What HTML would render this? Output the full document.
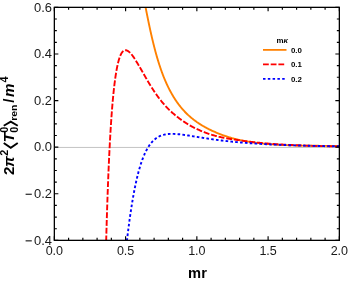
<!DOCTYPE html><html><head><meta charset="utf-8"><style>html,body{margin:0;padding:0;background:#fff}body{width:349px;height:281px;position:relative;overflow:hidden;font-family:"Liberation Sans",sans-serif}</style></head><body><svg width="349" height="281" viewBox="0 0 349 281" style="position:absolute;left:0;top:0;will-change:transform"><defs><clipPath id="c"><rect x="54.35" y="7.35" width="285.00" height="233.00"/></clipPath></defs><line x1="54.35" y1="147.45" x2="339.35" y2="147.45" stroke="#bcbcbc" stroke-width="0.9"/><g clip-path="url(#c)" fill="none" stroke-width="1.90" stroke-linejoin="round"><path d="M143.33 -4.27 L143.46 -3.58 L143.60 -2.90 L143.73 -2.21 L143.87 -1.52 L144.00 -0.83 L144.13 -0.14 L144.27 0.54 L144.40 1.23 L144.53 1.92 L144.67 2.61 L144.80 3.30 L144.94 3.99 L145.07 4.67 L145.20 5.36 L145.34 6.05 L145.47 6.74 L145.61 7.43 L145.74 8.11 L145.88 8.80 L146.01 9.49 L146.15 10.18 L146.28 10.87 L146.42 11.55 L146.55 12.24 L146.69 12.93 L146.83 13.62 L146.96 14.30 L147.10 14.99 L147.24 15.68 L147.38 16.36 L147.52 17.05 L147.66 17.74 L147.80 18.43 L147.94 19.11 L148.08 19.80 L148.22 20.49 L148.36 21.17 L148.50 21.86 L148.64 22.55 L148.79 23.23 L148.93 23.92 L149.08 24.60 L149.22 25.29 L149.37 25.98 L149.51 26.66 L149.66 27.35 L149.81 28.03 L149.96 28.72 L150.10 29.40 L150.25 30.09 L150.40 30.77 L150.56 31.46 L150.71 32.14 L150.86 32.82 L151.01 33.51 L151.17 34.19 L151.32 34.88 L151.48 35.56 L151.64 36.24 L151.79 36.93 L151.95 37.61 L152.11 38.29 L152.27 38.97 L152.44 39.66 L152.60 40.34 L152.76 41.02 L152.93 41.70 L153.09 42.38 L153.26 43.06 L153.43 43.74 L153.60 44.42 L153.77 45.10 L153.94 45.78 L154.11 46.46 L154.28 47.14 L154.46 47.82 L154.64 48.50 L154.81 49.18 L154.99 49.85 L155.17 50.53 L155.35 51.21 L155.54 51.89 L155.72 52.56 L155.91 53.24 L156.09 53.91 L156.28 54.59 L156.47 55.26 L156.66 55.94 L156.86 56.61 L157.05 57.29 L157.25 57.96 L157.45 58.63 L157.65 59.30 L157.85 59.97 L158.05 60.64 L158.26 61.31 L158.46 61.98 L158.67 62.65 L158.88 63.32 L159.10 63.99 L159.31 64.66 L159.53 65.32 L159.75 65.99 L159.97 66.66 L160.19 67.32 L160.42 67.98 L160.64 68.65 L160.87 69.31 L161.10 69.97 L161.34 70.63 L161.57 71.29 L161.81 71.95 L162.05 72.61 L162.30 73.27 L162.54 73.92 L162.79 74.58 L163.04 75.23 L163.30 75.89 L163.56 76.54 L163.81 77.19 L164.08 77.84 L164.34 78.49 L164.61 79.14 L164.88 79.78 L165.16 80.43 L165.43 81.07 L165.71 81.71 L165.99 82.36 L166.28 83.00 L166.57 83.63 L166.86 84.27 L167.16 84.91 L167.45 85.54 L167.76 86.18 L168.06 86.81 L168.37 87.44 L168.68 88.06 L168.99 88.69 L169.31 89.32 L169.63 89.94 L169.96 90.56 L170.29 91.18 L170.62 91.80 L170.96 92.41 L171.30 93.02 L171.64 93.64 L171.99 94.25 L172.34 94.85 L172.69 95.46 L173.05 96.06 L173.41 96.66 L173.78 97.26 L174.15 97.85 L174.52 98.44 L174.90 99.03 L175.28 99.62 L175.67 100.21 L176.06 100.79 L176.46 101.37 L176.86 101.94 L177.26 102.52 L177.67 103.09 L178.08 103.65 L178.50 104.22 L178.92 104.78 L179.35 105.33 L179.78 105.89 L180.21 106.44 L180.65 106.98 L181.09 107.53 L181.54 108.07 L181.99 108.60 L182.45 109.13 L182.91 109.66 L183.38 110.18 L183.85 110.70 L184.33 111.22 L184.81 111.73 L185.29 112.23 L185.78 112.73 L186.28 113.23 L186.78 113.72 L187.29 114.21 L187.79 114.69 L188.31 115.16 L188.83 115.63 L189.35 116.10 L189.88 116.56 L190.41 117.02 L190.94 117.48 L191.48 117.92 L192.02 118.37 L192.57 118.81 L193.12 119.24 L193.67 119.68 L194.23 120.10 L194.79 120.52 L195.35 120.94 L195.92 121.35 L196.49 121.76 L197.06 122.17 L197.64 122.56 L198.22 122.96 L198.80 123.35 L199.38 123.74 L199.97 124.12 L200.56 124.49 L201.16 124.86 L201.75 125.23 L202.35 125.60 L202.96 125.95 L203.56 126.31 L204.17 126.66 L204.78 127.01 L205.39 127.35 L206.00 127.68 L206.62 128.02 L207.24 128.35 L207.86 128.67 L208.49 128.99 L209.11 129.31 L209.74 129.62 L210.37 129.93 L211.00 130.23 L211.63 130.53 L212.27 130.83 L212.91 131.12 L213.55 131.40 L214.19 131.69 L214.83 131.97 L215.47 132.24 L216.12 132.52 L216.77 132.79 L217.42 133.05 L218.07 133.31 L218.72 133.57 L219.37 133.82 L220.03 134.07 L220.68 134.32 L221.34 134.57 L222.00 134.81 L222.65 135.05 L223.31 135.29 L223.97 135.53 L224.63 135.76 L225.30 136.00 L225.96 136.22 L226.62 136.45 L227.29 136.67 L227.95 136.89 L228.62 137.11 L229.29 137.32 L229.96 137.53 L230.63 137.73 L231.30 137.93 L231.97 138.13 L232.65 138.32 L233.32 138.51 L234.00 138.69 L234.68 138.87 L235.36 139.04 L236.04 139.21 L236.72 139.37 L237.40 139.53 L238.08 139.69 L238.77 139.85 L239.45 140.00 L240.14 140.15 L240.82 140.29 L241.51 140.43 L242.20 140.57 L242.88 140.70 L243.57 140.84 L244.26 140.97 L244.95 141.09 L245.64 141.22 L246.33 141.34 L247.02 141.45 L247.71 141.57 L248.41 141.68 L249.10 141.79 L249.79 141.90 L250.48 142.01 L251.18 142.11 L251.87 142.21 L252.57 142.31 L253.26 142.40 L253.95 142.50 L254.65 142.59 L255.34 142.68 L256.04 142.77 L256.74 142.86 L257.43 142.94 L258.13 143.02 L258.82 143.11 L259.52 143.19 L260.22 143.26 L260.91 143.34 L261.61 143.42 L262.31 143.49 L263.01 143.56 L263.70 143.63 L264.40 143.70 L265.10 143.76 L265.80 143.83 L266.50 143.89 L267.19 143.95 L267.89 144.01 L268.59 144.07 L269.29 144.13 L269.99 144.18 L270.69 144.24 L271.39 144.29 L272.08 144.34 L272.78 144.39 L273.48 144.44 L274.18 144.49 L274.88 144.53 L275.58 144.58 L276.28 144.62 L276.98 144.66 L277.68 144.70 L278.38 144.74 L279.08 144.78 L279.78 144.82 L280.48 144.86 L281.18 144.89 L281.88 144.93 L282.58 144.96 L283.28 145.00 L283.98 145.03 L284.68 145.06 L285.38 145.09 L286.08 145.12 L286.78 145.15 L287.48 145.17 L288.18 145.20 L288.88 145.23 L289.59 145.25 L290.29 145.28 L290.99 145.30 L291.69 145.32 L292.39 145.35 L293.09 145.37 L293.79 145.39 L294.49 145.41 L295.19 145.43 L295.89 145.45 L296.59 145.47 L297.29 145.49 L297.99 145.50 L298.69 145.52 L299.40 145.54 L300.10 145.55 L300.80 145.57 L301.50 145.58 L302.20 145.60 L302.90 145.61 L303.60 145.63 L304.30 145.64 L305.00 145.65 L305.70 145.66 L306.40 145.68 L307.10 145.69 L307.81 145.70 L308.51 145.71 L309.21 145.72 L309.91 145.73 L310.61 145.74 L311.31 145.75 L312.01 145.76 L312.71 145.76 L313.41 145.77 L314.11 145.78 L314.82 145.79 L315.52 145.79 L316.22 145.80 L316.92 145.81 L317.62 145.81 L318.32 145.82 L319.02 145.83 L319.72 145.83 L320.42 145.84 L321.12 145.84 L321.83 145.85 L322.53 145.85 L323.23 145.86 L323.93 145.86 L324.63 145.87 L325.33 145.87 L326.03 145.87 L326.73 145.88 L327.43 145.88 L328.13 145.88 L328.83 145.89 L329.54 145.89 L330.24 145.89 L330.94 145.89 L331.64 145.90 L332.34 145.90 L333.04 145.90 L333.74 145.90 L334.44 145.91 L335.14 145.91 L335.84 145.91 L336.55 145.91 L337.25 145.91 L337.95 145.92 L338.65 145.92 L339.35 145.92" stroke="#ff8000"/><path d="M105.89 251.74 L105.90 251.04 L105.92 250.34 L105.94 249.64 L105.96 248.94 L105.98 248.24 L105.99 247.54 L106.01 246.84 L106.03 246.14 L106.05 245.44 L106.07 244.74 L106.09 244.04 L106.11 243.34 L106.12 242.64 L106.14 241.94 L106.16 241.24 L106.18 240.54 L106.20 239.84 L106.22 239.14 L106.24 238.44 L106.26 237.74 L106.28 237.04 L106.30 236.34 L106.32 235.64 L106.34 234.94 L106.36 234.24 L106.38 233.54 L106.39 232.84 L106.41 232.14 L106.43 231.44 L106.45 230.74 L106.47 230.04 L106.50 229.34 L106.52 228.64 L106.54 227.94 L106.56 227.24 L106.58 226.54 L106.60 225.84 L106.62 225.14 L106.64 224.44 L106.66 223.74 L106.68 223.04 L106.70 222.34 L106.72 221.64 L106.74 220.94 L106.76 220.24 L106.79 219.54 L106.81 218.84 L106.83 218.14 L106.85 217.44 L106.87 216.74 L106.89 216.04 L106.92 215.34 L106.94 214.64 L106.96 213.94 L106.98 213.24 L107.00 212.54 L107.03 211.84 L107.05 211.14 L107.07 210.44 L107.09 209.74 L107.12 209.04 L107.14 208.34 L107.16 207.64 L107.19 206.94 L107.21 206.24 L107.23 205.54 L107.26 204.84 L107.28 204.14 L107.30 203.44 L107.33 202.74 L107.35 202.04 L107.37 201.34 L107.40 200.64 L107.42 199.94 L107.45 199.24 L107.47 198.54 L107.49 197.84 L107.52 197.14 L107.54 196.44 L107.57 195.74 L107.59 195.04 L107.62 194.34 L107.64 193.64 L107.67 192.94 L107.69 192.24 L107.72 191.54 L107.74 190.84 L107.77 190.14 L107.80 189.44 L107.82 188.74 L107.85 188.04 L107.87 187.34 L107.90 186.64 L107.93 185.94 L107.95 185.24 L107.98 184.54 L108.01 183.84 L108.03 183.14 L108.06 182.44 L108.09 181.74 L108.12 181.04 L108.14 180.34 L108.17 179.64 L108.20 178.94 L108.23 178.24 L108.25 177.55 L108.28 176.85 L108.31 176.15 L108.34 175.45 L108.37 174.75 L108.40 174.05 L108.43 173.35 L108.45 172.65 L108.48 171.95 L108.51 171.25 L108.54 170.55 L108.57 169.85 L108.60 169.15 L108.63 168.45 L108.66 167.75 L108.69 167.05 L108.72 166.35 L108.75 165.65 L108.79 164.95 L108.82 164.25 L108.85 163.55 L108.88 162.85 L108.91 162.15 L108.94 161.45 L108.97 160.75 L109.01 160.05 L109.04 159.35 L109.07 158.65 L109.10 157.96 L109.14 157.26 L109.17 156.56 L109.20 155.86 L109.24 155.16 L109.27 154.46 L109.31 153.76 L109.34 153.06 L109.37 152.36 L109.41 151.66 L109.44 150.96 L109.48 150.26 L109.51 149.56 L109.55 148.86 L109.58 148.16 L109.62 147.46 L109.66 146.76 L109.69 146.06 L109.73 145.37 L109.77 144.67 L109.80 143.97 L109.84 143.27 L109.88 142.57 L109.92 141.87 L109.95 141.17 L109.99 140.47 L110.03 139.77 L110.07 139.07 L110.11 138.37 L110.15 137.67 L110.19 136.97 L110.23 136.28 L110.27 135.58 L110.31 134.88 L110.35 134.18 L110.39 133.48 L110.43 132.78 L110.47 132.08 L110.52 131.38 L110.56 130.68 L110.60 129.98 L110.64 129.28 L110.69 128.59 L110.73 127.89 L110.78 127.19 L110.82 126.49 L110.87 125.79 L110.91 125.09 L110.96 124.39 L111.00 123.69 L111.05 123.00 L111.09 122.30 L111.14 121.60 L111.19 120.90 L111.24 120.20 L111.28 119.50 L111.33 118.80 L111.38 118.10 L111.43 117.41 L111.48 116.71 L111.53 116.01 L111.58 115.31 L111.63 114.61 L111.68 113.91 L111.74 113.22 L111.79 112.52 L111.84 111.82 L111.90 111.12 L111.95 110.42 L112.00 109.72 L112.06 109.03 L112.12 108.33 L112.17 107.63 L112.23 106.93 L112.29 106.23 L112.34 105.54 L112.40 104.84 L112.46 104.14 L112.52 103.44 L112.58 102.74 L112.64 102.05 L112.70 101.35 L112.77 100.65 L112.83 99.95 L112.89 99.26 L112.96 98.56 L113.02 97.86 L113.09 97.17 L113.16 96.47 L113.22 95.77 L113.29 95.07 L113.36 94.38 L113.43 93.68 L113.50 92.98 L113.57 92.29 L113.65 91.59 L113.72 90.89 L113.79 90.20 L113.87 89.50 L113.95 88.81 L114.02 88.11 L114.10 87.41 L114.18 86.72 L114.26 86.02 L114.34 85.33 L114.43 84.63 L114.51 83.94 L114.60 83.24 L114.69 82.55 L114.78 81.85 L114.87 81.16 L114.96 80.46 L115.05 79.77 L115.14 79.08 L115.24 78.38 L115.34 77.69 L115.44 77.00 L115.54 76.30 L115.64 75.61 L115.75 74.92 L115.86 74.23 L115.97 73.53 L116.08 72.84 L116.20 72.15 L116.31 71.46 L116.43 70.77 L116.56 70.08 L116.68 69.39 L116.81 68.70 L116.94 68.02 L117.08 67.33 L117.22 66.64 L117.36 65.96 L117.51 65.27 L117.66 64.59 L117.81 63.91 L117.97 63.23 L118.14 62.55 L118.31 61.87 L118.49 61.19 L118.68 60.51 L118.87 59.84 L119.07 59.17 L119.28 58.50 L119.50 57.84 L119.73 57.18 L119.97 56.52 L120.23 55.87 L120.51 55.22 L120.80 54.59 L121.11 53.96 L121.45 53.35 L121.82 52.75 L122.22 52.18 L122.67 51.64 L123.17 51.15 L123.73 50.73 L124.35 50.41 L125.02 50.23 L125.72 50.20 L126.41 50.31 L127.08 50.54 L127.70 50.85 L128.29 51.22 L128.85 51.64 L129.39 52.10 L129.89 52.58 L130.38 53.08 L130.85 53.60 L131.31 54.13 L131.75 54.67 L132.18 55.22 L132.61 55.78 L133.02 56.35 L133.42 56.92 L133.82 57.50 L134.21 58.08 L134.60 58.66 L134.98 59.25 L135.35 59.84 L135.72 60.44 L136.09 61.03 L136.46 61.63 L136.83 62.22 L137.19 62.82 L137.55 63.42 L137.91 64.02 L138.27 64.62 L138.63 65.23 L138.98 65.83 L139.34 66.43 L139.69 67.04 L140.04 67.64 L140.40 68.25 L140.75 68.85 L141.10 69.46 L141.45 70.07 L141.80 70.67 L142.15 71.28 L142.49 71.89 L142.84 72.50 L143.19 73.11 L143.54 73.71 L143.88 74.32 L144.23 74.93 L144.58 75.54 L144.92 76.15 L145.27 76.76 L145.61 77.37 L145.96 77.97 L146.31 78.58 L146.66 79.19 L147.01 79.79 L147.36 80.40 L147.72 81.00 L148.07 81.61 L148.43 82.21 L148.79 82.81 L149.15 83.41 L149.51 84.01 L149.87 84.61 L150.24 85.21 L150.61 85.80 L150.98 86.40 L151.35 86.99 L151.72 87.58 L152.10 88.18 L152.47 88.77 L152.85 89.35 L153.24 89.94 L153.62 90.53 L154.01 91.11 L154.40 91.69 L154.79 92.27 L155.18 92.85 L155.58 93.43 L155.98 94.00 L156.38 94.57 L156.79 95.14 L157.20 95.71 L157.61 96.28 L158.02 96.84 L158.44 97.41 L158.86 97.97 L159.29 98.52 L159.71 99.08 L160.14 99.63 L160.58 100.18 L161.01 100.73 L161.45 101.28 L161.89 101.82 L162.34 102.36 L162.79 102.89 L163.24 103.43 L163.70 103.96 L164.16 104.49 L164.63 105.01 L165.09 105.53 L165.56 106.05 L166.04 106.57 L166.52 107.08 L167.00 107.59 L167.48 108.09 L167.97 108.59 L168.47 109.09 L168.96 109.58 L169.46 110.07 L169.97 110.56 L170.48 111.04 L170.99 111.52 L171.50 111.99 L172.02 112.46 L172.55 112.93 L173.07 113.39 L173.60 113.84 L174.14 114.30 L174.68 114.74 L175.22 115.19 L175.76 115.63 L176.31 116.07 L176.86 116.50 L177.41 116.94 L177.96 117.36 L178.52 117.79 L179.07 118.22 L179.63 118.64 L180.20 119.05 L180.76 119.47 L181.33 119.88 L181.90 120.29 L182.47 120.69 L183.04 121.09 L183.62 121.49 L184.20 121.88 L184.78 122.27 L185.37 122.66 L185.95 123.04 L186.54 123.42 L187.14 123.79 L187.73 124.16 L188.33 124.52 L188.93 124.88 L189.53 125.24 L190.14 125.59 L190.75 125.94 L191.36 126.28 L191.98 126.61 L192.59 126.94 L193.21 127.26 L193.84 127.58 L194.46 127.89 L195.09 128.20 L195.73 128.50 L196.36 128.80 L197.00 129.09 L197.63 129.38 L198.27 129.67 L198.91 129.95 L199.55 130.23 L200.20 130.51 L200.84 130.78 L201.49 131.05 L202.14 131.32 L202.79 131.58 L203.44 131.84 L204.09 132.10 L204.74 132.35 L205.40 132.59 L206.05 132.84 L206.71 133.08 L207.37 133.32 L208.03 133.55 L208.69 133.78 L209.36 134.00 L210.02 134.22 L210.69 134.44 L211.35 134.65 L212.02 134.86 L212.69 135.06 L213.36 135.26 L214.04 135.46 L214.71 135.65 L215.38 135.84 L216.06 136.02 L216.74 136.20 L217.42 136.38 L218.10 136.55 L218.78 136.71 L219.46 136.87 L220.14 137.03 L220.82 137.18 L221.51 137.32 L222.19 137.47 L222.88 137.61 L223.57 137.74 L224.26 137.88 L224.94 138.00 L225.63 138.13 L226.32 138.25 L227.01 138.37 L227.70 138.49 L228.39 138.61 L229.08 138.72 L229.78 138.83 L230.47 138.94 L231.16 139.05 L231.85 139.16 L232.54 139.26 L233.24 139.37 L233.93 139.47 L234.62 139.57 L235.31 139.67 L236.01 139.77 L236.70 139.87 L237.39 139.98 L238.09 140.08 L238.78 140.18 L239.47 140.28 L240.16 140.38 L240.86 140.49 L241.55 140.59 L242.24 140.68 L242.94 140.78 L243.63 140.88 L244.32 140.97 L245.02 141.07 L245.71 141.16 L246.41 141.25 L247.10 141.34 L247.80 141.43 L248.49 141.52 L249.19 141.61 L249.88 141.70 L250.58 141.78 L251.27 141.87 L251.97 141.95 L252.66 142.03 L253.36 142.11 L254.05 142.19 L254.75 142.27 L255.44 142.35 L256.14 142.43 L256.84 142.50 L257.53 142.58 L258.23 142.65 L258.93 142.72 L259.62 142.80 L260.32 142.87 L261.02 142.94 L261.71 143.01 L262.41 143.08 L263.11 143.14 L263.80 143.21 L264.50 143.27 L265.20 143.33 L265.90 143.39 L266.59 143.45 L267.29 143.51 L267.99 143.57 L268.69 143.63 L269.39 143.68 L270.08 143.74 L270.78 143.79 L271.48 143.84 L272.18 143.90 L272.88 143.95 L273.58 144.00 L274.27 144.04 L274.97 144.09 L275.67 144.14 L276.37 144.19 L277.07 144.23 L277.77 144.27 L278.47 144.32 L279.17 144.36 L279.87 144.40 L280.56 144.44 L281.26 144.49 L281.96 144.53 L282.66 144.56 L283.36 144.60 L284.06 144.64 L284.76 144.68 L285.46 144.72 L286.16 144.75 L286.86 144.79 L287.56 144.82 L288.26 144.86 L288.96 144.89 L289.66 144.93 L290.35 144.96 L291.05 144.99 L291.75 145.02 L292.45 145.06 L293.15 145.09 L293.85 145.12 L294.55 145.15 L295.25 145.18 L295.95 145.21 L296.65 145.24 L297.35 145.27 L298.05 145.30 L298.75 145.33 L299.45 145.36 L300.15 145.39 L300.85 145.42 L301.55 145.45 L302.25 145.48 L302.95 145.50 L303.65 145.53 L304.35 145.56 L305.05 145.58 L305.75 145.61 L306.45 145.64 L307.15 145.66 L307.85 145.69 L308.55 145.71 L309.25 145.73 L309.95 145.76 L310.65 145.78 L311.35 145.81 L312.05 145.83 L312.75 145.85 L313.45 145.87 L314.15 145.89 L314.85 145.92 L315.55 145.94 L316.25 145.96 L316.95 145.98 L317.65 146.00 L318.35 146.02 L319.05 146.04 L319.75 146.06 L320.45 146.07 L321.15 146.09 L321.85 146.11 L322.55 146.13 L323.25 146.15 L323.95 146.16 L324.65 146.18 L325.35 146.20 L326.05 146.21 L326.75 146.23 L327.45 146.25 L328.15 146.26 L328.85 146.28 L329.55 146.29 L330.25 146.31 L330.95 146.32 L331.65 146.34 L332.35 146.35 L333.05 146.37 L333.75 146.38 L334.45 146.39 L335.15 146.41 L335.85 146.42 L336.55 146.43 L337.25 146.44 L337.95 146.46 L338.65 146.47 L339.35 146.48" stroke="#ff0000" stroke-dasharray="5.870 1.900" stroke-dashoffset="5.20"/><path d="M125.65 251.99 L125.73 251.29 L125.80 250.59 L125.88 249.90 L125.96 249.20 L126.03 248.51 L126.11 247.81 L126.19 247.12 L126.27 246.42 L126.35 245.72 L126.43 245.03 L126.51 244.33 L126.59 243.64 L126.67 242.94 L126.75 242.25 L126.83 241.55 L126.91 240.85 L126.99 240.16 L127.07 239.46 L127.16 238.77 L127.24 238.07 L127.32 237.38 L127.41 236.68 L127.49 235.99 L127.57 235.29 L127.66 234.60 L127.74 233.90 L127.83 233.21 L127.92 232.51 L128.00 231.82 L128.09 231.12 L128.18 230.43 L128.27 229.73 L128.35 229.04 L128.44 228.34 L128.53 227.65 L128.62 226.96 L128.71 226.26 L128.81 225.57 L128.90 224.87 L128.99 224.18 L129.08 223.48 L129.18 222.79 L129.27 222.10 L129.36 221.40 L129.46 220.71 L129.55 220.02 L129.65 219.32 L129.75 218.63 L129.84 217.93 L129.94 217.24 L130.04 216.55 L130.14 215.85 L130.24 215.16 L130.34 214.47 L130.44 213.78 L130.54 213.08 L130.65 212.39 L130.75 211.70 L130.85 211.01 L130.96 210.31 L131.06 209.62 L131.17 208.93 L131.28 208.24 L131.38 207.54 L131.49 206.85 L131.60 206.16 L131.71 205.47 L131.82 204.78 L131.93 204.09 L132.05 203.40 L132.16 202.71 L132.27 202.01 L132.39 201.32 L132.51 200.63 L132.62 199.94 L132.74 199.25 L132.86 198.56 L132.98 197.87 L133.10 197.18 L133.22 196.49 L133.35 195.80 L133.47 195.12 L133.60 194.43 L133.72 193.74 L133.85 193.05 L133.98 192.36 L134.11 191.67 L134.24 190.99 L134.37 190.30 L134.51 189.61 L134.64 188.92 L134.78 188.24 L134.92 187.55 L135.06 186.86 L135.20 186.18 L135.34 185.49 L135.48 184.81 L135.63 184.12 L135.77 183.44 L135.92 182.75 L136.07 182.07 L136.22 181.38 L136.38 180.70 L136.53 180.02 L136.69 179.34 L136.85 178.65 L137.01 177.97 L137.17 177.29 L137.33 176.61 L137.50 175.93 L137.67 175.25 L137.84 174.57 L138.01 173.89 L138.19 173.22 L138.36 172.54 L138.54 171.86 L138.73 171.19 L138.91 170.51 L139.10 169.84 L139.29 169.16 L139.48 168.49 L139.68 167.82 L139.87 167.14 L140.08 166.47 L140.28 165.80 L140.49 165.14 L140.70 164.47 L140.91 163.80 L141.13 163.14 L141.35 162.47 L141.58 161.81 L141.81 161.15 L142.04 160.49 L142.28 159.83 L142.52 159.17 L142.77 158.52 L143.02 157.86 L143.28 157.21 L143.54 156.56 L143.80 155.91 L144.07 155.27 L144.35 154.62 L144.63 153.98 L144.92 153.35 L145.22 152.71 L145.52 152.08 L145.83 151.45 L146.14 150.83 L146.47 150.20 L146.80 149.59 L147.13 148.97 L147.48 148.36 L147.84 147.76 L148.20 147.16 L148.57 146.57 L148.96 145.98 L149.35 145.40 L149.75 144.83 L150.16 144.27 L150.59 143.71 L151.03 143.16 L151.47 142.62 L151.93 142.10 L152.40 141.58 L152.89 141.07 L153.39 140.58 L153.90 140.10 L154.42 139.63 L154.96 139.18 L155.50 138.75 L156.07 138.33 L156.64 137.93 L157.23 137.55 L157.83 137.19 L158.44 136.84 L159.06 136.52 L159.69 136.21 L160.33 135.93 L160.98 135.66 L161.63 135.42 L162.30 135.20 L162.97 134.99 L163.64 134.81 L164.32 134.64 L165.01 134.50 L165.69 134.37 L166.39 134.25 L167.08 134.16 L167.77 134.08 L168.47 134.01 L169.17 133.95 L169.87 133.91 L170.57 133.89 L171.27 133.87 L171.97 133.86 L172.67 133.87 L173.37 133.88 L174.07 133.90 L174.77 133.93 L175.47 133.97 L176.17 134.01 L176.86 134.06 L177.56 134.12 L178.26 134.18 L178.96 134.25 L179.65 134.32 L180.35 134.40 L181.04 134.48 L181.74 134.57 L182.43 134.66 L183.13 134.75 L183.82 134.84 L184.52 134.94 L185.21 135.04 L185.90 135.14 L186.59 135.24 L187.29 135.34 L187.98 135.45 L188.67 135.56 L189.36 135.67 L190.05 135.78 L190.75 135.89 L191.44 136.00 L192.13 136.11 L192.82 136.22 L193.51 136.33 L194.20 136.45 L194.89 136.56 L195.58 136.67 L196.27 136.79 L196.97 136.90 L197.66 137.01 L198.35 137.12 L199.04 137.24 L199.73 137.35 L200.42 137.46 L201.11 137.57 L201.80 137.68 L202.50 137.79 L203.19 137.90 L203.88 138.01 L204.57 138.12 L205.26 138.22 L205.96 138.33 L206.65 138.43 L207.34 138.54 L208.03 138.64 L208.73 138.75 L209.42 138.85 L210.11 138.95 L210.80 139.05 L211.50 139.15 L212.19 139.25 L212.88 139.35 L213.58 139.44 L214.27 139.54 L214.96 139.63 L215.66 139.73 L216.35 139.82 L217.05 139.91 L217.74 140.00 L218.44 140.09 L219.13 140.18 L219.82 140.27 L220.52 140.36 L221.21 140.44 L221.91 140.53 L222.60 140.61 L223.30 140.69 L224.00 140.78 L224.69 140.86 L225.39 140.94 L226.08 141.02 L226.78 141.09 L227.47 141.17 L228.17 141.25 L228.87 141.32 L229.56 141.40 L230.26 141.47 L230.96 141.54 L231.65 141.62 L232.35 141.69 L233.05 141.76 L233.74 141.82 L234.44 141.89 L235.14 141.96 L235.83 142.03 L236.53 142.09 L237.23 142.16 L237.92 142.22 L238.62 142.28 L239.32 142.35 L240.02 142.41 L240.71 142.47 L241.41 142.53 L242.11 142.59 L242.81 142.64 L243.51 142.70 L244.20 142.76 L244.90 142.81 L245.60 142.87 L246.30 142.92 L247.00 142.98 L247.69 143.03 L248.39 143.08 L249.09 143.14 L249.79 143.19 L250.49 143.24 L251.19 143.29 L251.88 143.34 L252.58 143.38 L253.28 143.43 L253.98 143.48 L254.68 143.53 L255.38 143.57 L256.08 143.62 L256.77 143.66 L257.47 143.70 L258.17 143.75 L258.87 143.79 L259.57 143.83 L260.27 143.88 L260.97 143.92 L261.67 143.96 L262.37 144.00 L263.07 144.04 L263.76 144.08 L264.46 144.11 L265.16 144.15 L265.86 144.19 L266.56 144.23 L267.26 144.26 L267.96 144.30 L268.66 144.33 L269.36 144.37 L270.06 144.40 L270.76 144.44 L271.46 144.47 L272.16 144.51 L272.86 144.54 L273.56 144.57 L274.25 144.60 L274.95 144.63 L275.65 144.67 L276.35 144.70 L277.05 144.73 L277.75 144.76 L278.45 144.79 L279.15 144.82 L279.85 144.84 L280.55 144.87 L281.25 144.90 L281.95 144.93 L282.65 144.96 L283.35 144.98 L284.05 145.01 L284.75 145.04 L285.45 145.06 L286.15 145.09 L286.85 145.11 L287.55 145.14 L288.25 145.16 L288.95 145.19 L289.65 145.21 L290.35 145.23 L291.05 145.26 L291.75 145.28 L292.45 145.30 L293.15 145.33 L293.85 145.35 L294.55 145.37 L295.25 145.39 L295.95 145.41 L296.65 145.43 L297.35 145.45 L298.05 145.48 L298.75 145.50 L299.45 145.52 L300.15 145.54 L300.85 145.55 L301.55 145.57 L302.25 145.59 L302.95 145.61 L303.65 145.63 L304.35 145.65 L305.05 145.67 L305.75 145.68 L306.45 145.70 L307.15 145.72 L307.85 145.74 L308.55 145.75 L309.25 145.77 L309.95 145.79 L310.65 145.80 L311.35 145.82 L312.05 145.84 L312.75 145.85 L313.45 145.87 L314.15 145.88 L314.85 145.90 L315.55 145.91 L316.25 145.93 L316.95 145.94 L317.65 145.96 L318.35 145.97 L319.05 145.98 L319.75 146.00 L320.45 146.01 L321.15 146.03 L321.85 146.04 L322.55 146.05 L323.25 146.07 L323.95 146.08 L324.65 146.09 L325.35 146.10 L326.05 146.12 L326.75 146.13 L327.45 146.14 L328.15 146.15 L328.85 146.16 L329.55 146.18 L330.25 146.19 L330.95 146.20 L331.65 146.21 L332.35 146.22 L333.05 146.23 L333.75 146.24 L334.45 146.25 L335.15 146.26 L335.85 146.27 L336.55 146.28 L337.25 146.30 L337.95 146.31 L338.65 146.32 L339.35 146.32" stroke="#0000ff" stroke-dasharray="2.620 2.230" stroke-dashoffset="3.34"/></g><rect x="54.35" y="7.35" width="285.00" height="233.00" fill="none" stroke="#000" stroke-width="1.3"/><path d="M54.35 240.35v-4.00M54.35 7.35v4.00M68.60 240.35v-2.50M68.60 7.35v2.50M82.85 240.35v-2.50M82.85 7.35v2.50M97.10 240.35v-2.50M97.10 7.35v2.50M111.35 240.35v-2.50M111.35 7.35v2.50M125.60 240.35v-4.00M125.60 7.35v4.00M139.85 240.35v-2.50M139.85 7.35v2.50M154.10 240.35v-2.50M154.10 7.35v2.50M168.35 240.35v-2.50M168.35 7.35v2.50M182.60 240.35v-2.50M182.60 7.35v2.50M196.85 240.35v-4.00M196.85 7.35v4.00M211.10 240.35v-2.50M211.10 7.35v2.50M225.35 240.35v-2.50M225.35 7.35v2.50M239.60 240.35v-2.50M239.60 7.35v2.50M253.85 240.35v-2.50M253.85 7.35v2.50M268.10 240.35v-4.00M268.10 7.35v4.00M282.35 240.35v-2.50M282.35 7.35v2.50M296.60 240.35v-2.50M296.60 7.35v2.50M310.85 240.35v-2.50M310.85 7.35v2.50M325.10 240.35v-2.50M325.10 7.35v2.50M339.35 240.35v-4.00M339.35 7.35v4.00M54.35 240.35h4.00M339.35 240.35h-4.00M54.35 228.70h2.50M339.35 228.70h-2.50M54.35 217.05h2.50M339.35 217.05h-2.50M54.35 205.40h2.50M339.35 205.40h-2.50M54.35 193.75h4.00M339.35 193.75h-4.00M54.35 182.10h2.50M339.35 182.10h-2.50M54.35 170.45h2.50M339.35 170.45h-2.50M54.35 158.80h2.50M339.35 158.80h-2.50M54.35 147.15h4.00M339.35 147.15h-4.00M54.35 135.50h2.50M339.35 135.50h-2.50M54.35 123.85h2.50M339.35 123.85h-2.50M54.35 112.20h2.50M339.35 112.20h-2.50M54.35 100.55h4.00M339.35 100.55h-4.00M54.35 88.90h2.50M339.35 88.90h-2.50M54.35 77.25h2.50M339.35 77.25h-2.50M54.35 65.60h2.50M339.35 65.60h-2.50M54.35 53.95h4.00M339.35 53.95h-4.00M54.35 42.30h2.50M339.35 42.30h-2.50M54.35 30.65h2.50M339.35 30.65h-2.50M54.35 19.00h2.50M339.35 19.00h-2.50M54.35 7.35h4.00M339.35 7.35h-4.00" stroke="#000" stroke-width="1.15" fill="none"/><g font-family="Liberation Sans, sans-serif" font-size="12.35" fill="#1a1a1a"><text transform="translate(54.35,254.7) scale(1.017,1)" text-anchor="middle">0.0</text><text transform="translate(125.60,254.7) scale(1.017,1)" text-anchor="middle">0.5</text><text transform="translate(196.85,254.7) scale(1.017,1)" text-anchor="middle">1.0</text><text transform="translate(268.10,254.7) scale(1.017,1)" text-anchor="middle">1.5</text><text transform="translate(339.35,254.7) scale(1.017,1)" text-anchor="middle">2.0</text><text transform="translate(52.0,11.65) scale(1.047,1)" text-anchor="end">0.6</text><text transform="translate(52.0,58.25) scale(1.047,1)" text-anchor="end">0.4</text><text transform="translate(52.0,104.85) scale(1.047,1)" text-anchor="end">0.2</text><text transform="translate(52.0,151.45) scale(1.047,1)" text-anchor="end">0.0</text><text transform="translate(52.0,198.05) scale(1.047,1)" text-anchor="end">0.2</text><line x1="25.6" x2="31.8" y1="194.25" y2="194.25" stroke="#111" stroke-width="1.1"/><text transform="translate(52.0,244.65) scale(1.047,1)" text-anchor="end">0.4</text><line x1="25.6" x2="31.8" y1="240.85" y2="240.85" stroke="#111" stroke-width="1.1"/></g><text transform="translate(197.5,277.6) scale(1.05,1)" text-anchor="middle" font-family="Liberation Sans, sans-serif" font-weight="bold" font-size="14" fill="#000">mr</text><g transform="translate(14.35,176) rotate(-90)" font-family="Liberation Sans, sans-serif" font-weight="bold" fill="#000"><text transform="translate(0.90,0.00) scale(1.080,1)" font-size="14.00">2</text><text transform="translate(9.10,0.00) scale(1.080,1)" font-size="14.00" font-style="italic">π</text><text transform="translate(20.20,-6.50) scale(1.080,1)" font-size="10.00">2</text><text transform="translate(33.60,0.00) scale(1.080,1)" font-size="15.00" font-style="italic">T</text><text transform="translate(43.20,-6.70) scale(1.080,1)" font-size="10.00">0</text><text transform="translate(43.20,3.40) scale(1.080,1)" font-size="10.00">0</text><text transform="translate(55.20,2.50) scale(1.080,1)" font-size="9.70">ren</text><text transform="translate(73.20,0.00) scale(1.080,1)" font-size="14.00">/</text><text transform="translate(79.00,0.00) scale(1.080,1)" font-size="14.00" font-style="italic">m</text><text transform="translate(93.40,-6.50) scale(1.080,1)" font-size="10.00">4</text><polyline points="33.00,-10.60 28.10,-3.60 33.00,3.40" fill="none" stroke="#000" stroke-width="1.9" stroke-linejoin="miter"/><polyline points="50.30,-10.60 54.30,-3.60 50.30,3.40" fill="none" stroke="#000" stroke-width="1.9" stroke-linejoin="miter"/></g><g font-family="Liberation Sans, sans-serif" font-weight="bold" fill="#000"><text x="282.3" y="43.2" text-anchor="middle" font-size="7.9">m<tspan font-style="italic">κ</tspan></text><line x1="263.0" x2="286.50" y1="49.90" y2="49.90" stroke="#ff8000" stroke-width="1.75" /><text x="290.9" y="52.50" font-size="7.9">0.0</text><line x1="263.0" x2="284.20" y1="64.40" y2="64.40" stroke="#ff0000" stroke-width="1.75" stroke-dasharray="5.8 1.9" stroke-dashoffset="0.00"/><text x="290.9" y="67.00" font-size="7.9">0.1</text><line x1="263.0" x2="285.20" y1="78.90" y2="78.90" stroke="#0000ff" stroke-width="1.75" stroke-dasharray="2.5 2.3" stroke-dashoffset="0.00"/><text x="290.9" y="81.50" font-size="7.9">0.2</text></g></svg></body></html>
